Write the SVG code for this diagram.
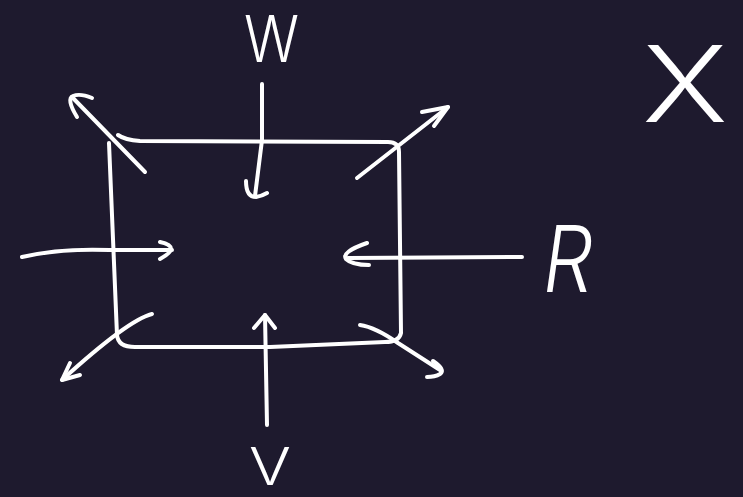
<svg xmlns="http://www.w3.org/2000/svg" width="743" height="497" viewBox="0 0 743 497">
<style>
.s{fill:none;stroke:#ffffff;stroke-width:4;stroke-linecap:round;stroke-linejoin:round}
.t{fill:#ffffff;font-family:Inter,"Open Sans","Liberation Sans",sans-serif;font-weight:300;text-anchor:start}
</style>
<rect width="743" height="497" fill="#1e1a2e"/>
<g id="box">
<path class="s" d="M109,143 L117,335 Q118,347 135,347 L270,347 L385,342 Q399,342 401,333 L399,152 Q399,142 388,142 L140,141 Q125,140 118,135"/>
</g>
<g id="connectors">
<path class="s" d="M145,172 L72,97"/>
<path class="s" d="M77,117 Q66,99 73,96 Q80,93 92,98"/>
<path class="s" d="M262,84 L262,140 L255,196"/>
<path class="s" d="M246,181 Q246,197 256,197 Q262,196 267,193"/>
<path class="s" d="M357,178 L448,107"/>
<path class="s" d="M422,112 L448,107 L434,126"/>
<path class="s" d="M22,257 Q60,248 110,250 L172,250"/>
<path class="s" d="M160,242 Q182,247 160,259"/>
<path class="s" d="M522,257 L348,258"/>
<path class="s" d="M367,243 Q341,252 346,259 Q352,265 369,265"/>
<path class="s" d="M152,314 Q128,320 62,380"/>
<path class="s" d="M70,363 L62,380 L80,375"/>
<path class="s" d="M267,425 L265,315"/>
<path class="s" d="M254,328 L265,315 L275,328"/>
<path class="s" d="M360,325 Q375,327 398,343 L440,370"/>
<path class="s" d="M433,361 Q446,370 440,374 Q435,377 427,377"/>
</g>
<g id="label-W"><text class="t" x="244" y="62" font-size="64" textLength="55" lengthAdjust="spacingAndGlyphs">W</text></g>
<g id="label-R"><text class="t" x="543" y="292" font-size="92" textLength="50" lengthAdjust="spacingAndGlyphs" font-style="italic">R</text></g>
<g id="label-V"><text class="t" x="249" y="485" font-size="52" textLength="42" lengthAdjust="spacingAndGlyphs">V</text></g>
<g id="label-X"><text class="t" x="642" y="122" font-size="106" textLength="86" lengthAdjust="spacingAndGlyphs">X</text></g>
</svg>
